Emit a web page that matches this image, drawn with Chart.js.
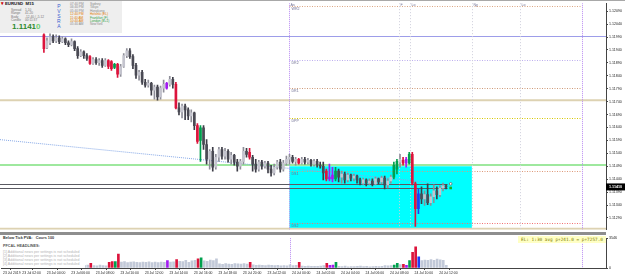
<!DOCTYPE html>
<html>
<head>
<meta charset="utf-8">
<script src="https://cdn.jsdelivr.net/npm/chart.js@4.4.0/dist/chart.umd.min.js"></script>
<style>
  html, body { margin: 0; padding: 0; background: #fff; }
  #wrap { position: relative; width: 625px; height: 277px; overflow: hidden; font-family: "Liberation Sans", Arial, sans-serif; }
  canvas { position: absolute; left: 0; }
  #cMain { top: 0; }
  #cVol { top: 235px; }
  .t { position: absolute; white-space: nowrap; line-height: 1; }
</style>
</head>
<body>
<div id="wrap">
  <canvas id="cMain" width="625" height="233"></canvas>
  <canvas id="cVol" width="625" height="42"></canvas>
  <div style="position:absolute;left:0;top:0;width:625px;height:1px;background:#a8a8a8"></div>
  <div style="position:absolute;left:0;top:232px;width:606px;height:3px;background:#8e8e8e"></div>

  <div style="position:absolute;left:0;top:1px;width:122px;height:32px;background:#eeeeee"></div>
  <div class="t" style="left:1px;top:2px;font-size:4.5px;font-weight:bold;color:#c00">&#9662;</div>
  <div class="t" style="left:5px;top:2px;font-size:4.3px;font-weight:bold;color:#111">EURUSD&nbsp;&nbsp;M15</div>
  <div class="t" style="left:11px;top:8.5px;font-size:3.2px;color:#777;line-height:3.5px">Spread<br>Range<br>Body<br>Candle</div>
  <div class="t" style="left:25px;top:8.5px;font-size:3.2px;color:#777;line-height:3.5px">1.10<br>41.20<br>-12.40 / -5.12<br>00:11:37</div>
  <div class="t" style="left:12px;top:23px;font-size:8px;font-weight:bold;color:#2e8b2e">1.1141<span style="color:#6fcf6f">0</span></div>
  <div class="t" style="left:57px;top:4px;font-size:5px;color:#3b5fd0;line-height:5px;text-align:center">P<br>V<br>S<br>R<br>A</div>
  <div class="t" style="left:70px;top:3px;font-size:3.2px;line-height:3.4px;color:#8a8a8a">07:40 PM<br>06:40 PM<br>05:40 PM<br><span style="color:#e07b00">12:40 PM</span><br><span style="color:#e07b00">11:40 AM</span><br><span style="color:#e07b00">10:40 AM</span><br>05:40 AM</div>
  <div class="t" style="left:90px;top:3px;font-size:3.2px;line-height:3.4px;color:#8a8a8a">Sydney<br>Tokyo<br>Hongkong<br><span style="color:#e07b00">Helsinki (EL)</span><br><span style="color:#2ea043">Frankfurt (F)</span><br><span style="color:#2ea043">London (B+1)</span><br>NewYork</div>

  <div style="position:absolute;left:0;top:236px;width:85px;height:32px;background:#fff"></div>
  <div class="t" style="left:3px;top:237px;font-size:3.8px;font-weight:bold;color:#333">Below Tick PVA:&nbsp;&nbsp;&nbsp;Cours 100</div>
  <div class="t" style="left:3px;top:245px;font-size:3.8px;font-weight:bold;color:#555">PFCAL HEADLINES:</div>
  <div class="t" style="left:3px;top:249.5px;font-size:3.6px;line-height:4.1px;color:#b4b4b4">[1] Additional news per settings is not scheduled<br>[2] Additional news per settings is not scheduled<br>[3] Additional news per settings is not scheduled<br>[4] Additional news per settings is not scheduled</div>

  <div class="t" style="left:518px;top:236px;width:88px;height:7px;background:#ffffc4;font-family:'DejaVu Sans Mono',monospace;font-size:4.4px;line-height:7px;color:#7a7a00;text-align:center">EL: 1:30 avg p+241.0 = p+7257.0</div>
</div>

<script>
// x positions are 15-minute slots counted from 23 Jul 2019 00:00
const firstSlot = 16;

const opens = [
  1.11998, 1.11949, 1.11968, 1.11991, 1.11975, 1.11987, 1.11972, 1.11983, 1.11968, 1.11960,
  1.11972, 1.11945, 1.11918, 1.11933, 1.11918, 1.11914, 1.11888, 1.11903, 1.11891, 1.11899,
  1.11880, 1.11899, 1.11895, 1.11872, 1.11884, 1.11846, 1.11876, 1.11918, 1.11937, 1.11914,
  1.11880, 1.11842, 1.11853, 1.11815, 1.11804, 1.11811, 1.11784, 1.11796, 1.11758, 1.11792,
  1.11792, 1.11807, 1.11826, 1.11807, 1.11716, 1.11700, 1.11723, 1.11708, 1.11685, 1.11697,
  1.11647, 1.11590, 1.11639, 1.11574, 1.11517, 1.11548, 1.11486, 1.11525, 1.11555, 1.11529,
  1.11548, 1.11517, 1.11532, 1.11506, 1.11490, 1.11509, 1.11548, 1.11544, 1.11525, 1.11498,
  1.11479, 1.11506, 1.11490, 1.11502, 1.11479, 1.11464, 1.11486, 1.11506, 1.11479, 1.11502,
  1.11517, 1.11525, 1.11509, 1.11517, 1.11502, 1.11517, 1.11506, 1.11513, 1.11498, 1.11509,
  1.11494, 1.11490, 1.11471, 1.11441, 1.11456, 1.11441, 1.11471, 1.11448, 1.11460, 1.11437,
  1.11456, 1.11444, 1.11452, 1.11437, 1.11425, 1.11437, 1.11425, 1.11433, 1.11422, 1.11441,
  1.11429, 1.11444, 1.11418, 1.11433, 1.11448, 1.11479, 1.11506, 1.11513, 1.11502, 1.11502,
  1.11536, 1.11422, 1.11326, 1.11383, 1.11364, 1.11380, 1.11349, 1.11372, 1.11395, 1.11380,
  1.11406, 1.11414
];
const highs = [
  1.12002, 1.11987, 1.12002, 1.11998, 1.11998, 1.11995, 1.11991, 1.11987, 1.11975, 1.11983,
  1.11975, 1.11953, 1.11941, 1.11937, 1.11926, 1.11918, 1.11910, 1.11910, 1.11907, 1.11907,
  1.11907, 1.11903, 1.11899, 1.11888, 1.11888, 1.11884, 1.11926, 1.11945, 1.11945, 1.11922,
  1.11888, 1.11861, 1.11861, 1.11826, 1.11823, 1.11815, 1.11804, 1.11804, 1.11800, 1.11823,
  1.11815, 1.11838, 1.11834, 1.11815, 1.11735, 1.11731, 1.11731, 1.11716, 1.11708, 1.11700,
  1.11655, 1.11647, 1.11647, 1.11593, 1.11555, 1.11563, 1.11536, 1.11563, 1.11563, 1.11559,
  1.11555, 1.11544, 1.11536, 1.11517, 1.11517, 1.11563, 1.11559, 1.11559, 1.11532, 1.11517,
  1.11513, 1.11513, 1.11509, 1.11509, 1.11494, 1.11498, 1.11513, 1.11517, 1.11513, 1.11529,
  1.11536, 1.11532, 1.11525, 1.11521, 1.11525, 1.11525, 1.11521, 1.11517, 1.11517, 1.11517,
  1.11506, 1.11506, 1.11479, 1.11498, 1.11486, 1.11486, 1.11479, 1.11471, 1.11467, 1.11464,
  1.11460, 1.11460, 1.11456, 1.11444, 1.11444, 1.11441, 1.11441, 1.11441, 1.11448, 1.11444,
  1.11452, 1.11452, 1.11441, 1.11456, 1.11506, 1.11517, 1.11536, 1.11525, 1.11525, 1.11544,
  1.11544, 1.11429, 1.11402, 1.11410, 1.11395, 1.11422, 1.11383, 1.11418, 1.11410, 1.11414,
  1.11425, 1.11418
];
const lows = [
  1.11930, 1.11945, 1.11960, 1.11968, 1.11968, 1.11964, 1.11968, 1.11960, 1.11953, 1.11956,
  1.11937, 1.11907, 1.11914, 1.11907, 1.11899, 1.11884, 1.11884, 1.11884, 1.11880, 1.11872,
  1.11876, 1.11868, 1.11861, 1.11868, 1.11834, 1.11838, 1.11872, 1.11910, 1.11907, 1.11868,
  1.11830, 1.11823, 1.11807, 1.11796, 1.11796, 1.11765, 1.11750, 1.11746, 1.11750, 1.11777,
  1.11788, 1.11800, 1.11792, 1.11712, 1.11689, 1.11677, 1.11670, 1.11670, 1.11662, 1.11632,
  1.11578, 1.11509, 1.11555, 1.11498, 1.11479, 1.11471, 1.11479, 1.11509, 1.11517, 1.11517,
  1.11506, 1.11498, 1.11494, 1.11471, 1.11479, 1.11498, 1.11525, 1.11517, 1.11471, 1.11467,
  1.11471, 1.11479, 1.11483, 1.11464, 1.11452, 1.11456, 1.11479, 1.11467, 1.11471, 1.11494,
  1.11498, 1.11502, 1.11494, 1.11498, 1.11498, 1.11498, 1.11498, 1.11490, 1.11490, 1.11486,
  1.11483, 1.11437, 1.11433, 1.11433, 1.11429, 1.11433, 1.11429, 1.11425, 1.11425, 1.11429,
  1.11433, 1.11433, 1.11425, 1.11418, 1.11418, 1.11414, 1.11418, 1.11414, 1.11418, 1.11422,
  1.11422, 1.11402, 1.11406, 1.11425, 1.11441, 1.11460, 1.11486, 1.11494, 1.11486, 1.11498,
  1.11418, 1.11257, 1.11307, 1.11345, 1.11338, 1.11341, 1.11338, 1.11349, 1.11364, 1.11372,
  1.11395, 1.11402
];
const closes = [
  1.11945, 1.11975, 1.11991, 1.11975, 1.11987, 1.11972, 1.11983, 1.11968, 1.11960, 1.11972,
  1.11945, 1.11918, 1.11933, 1.11918, 1.11907, 1.11888, 1.11903, 1.11891, 1.11899, 1.11880,
  1.11899, 1.11876, 1.11868, 1.11884, 1.11846, 1.11876, 1.11918, 1.11937, 1.11914, 1.11880,
  1.11842, 1.11853, 1.11815, 1.11804, 1.11811, 1.11784, 1.11796, 1.11758, 1.11792, 1.11807,
  1.11811, 1.11826, 1.11807, 1.11716, 1.11700, 1.11723, 1.11708, 1.11685, 1.11697, 1.11647,
  1.11586, 1.11639, 1.11574, 1.11517, 1.11548, 1.11486, 1.11525, 1.11555, 1.11529, 1.11548,
  1.11517, 1.11532, 1.11506, 1.11490, 1.11509, 1.11548, 1.11536, 1.11525, 1.11498, 1.11479,
  1.11506, 1.11490, 1.11502, 1.11479, 1.11464, 1.11486, 1.11506, 1.11479, 1.11502, 1.11517,
  1.11525, 1.11509, 1.11517, 1.11502, 1.11517, 1.11506, 1.11513, 1.11498, 1.11509, 1.11494,
  1.11490, 1.11464, 1.11441, 1.11448, 1.11441, 1.11471, 1.11448, 1.11460, 1.11437, 1.11456,
  1.11444, 1.11452, 1.11437, 1.11425, 1.11437, 1.11425, 1.11433, 1.11422, 1.11441, 1.11429,
  1.11444, 1.11418, 1.11433, 1.11448, 1.11494, 1.11509, 1.11517, 1.11502, 1.11517, 1.11536,
  1.11425, 1.11326, 1.11383, 1.11364, 1.11380, 1.11349, 1.11372, 1.11395, 1.11380, 1.11406,
  1.11414, 1.11410
];
const volumes = [
  400, 300, 250, 250, 200, 250, 200, 250, 300, 250,
  350, 450, 300, 300, 350, 550, 300, 250, 350, 300,
  250, 660, 770, 770, 1650, 700, 760, 650, 700, 720,
  680, 650, 700, 660, 720, 640, 700, 650, 700, 680,
  880, 700, 720, 990, 800, 760, 920, 680, 850, 900,
  1100, 1210, 850, 780, 950, 880, 1100, 500, 450, 520,
  480, 450, 520, 500, 460, 540, 480, 660, 380, 330,
  360, 320, 300, 350, 330, 280, 320, 260, 300, 250,
  380, 300, 320, 660, 220, 200, 230, 190, 210, 200,
  220, 300, 550, 330, 350, 660, 200, 180, 220, 150,
  180, 160, 200, 220, 170, 190, 150, 180, 200, 160,
  190, 280, 260, 300, 350, 550, 400, 440, 330, 880,
  1870, 2530, 1320, 880, 950, 900, 1000, 920, 1050, 980,
  900, 330
];
// PVSRA class per candle: n normal, r red climax, g green climax, v violet, b blue
const pvsra = ('r nnnnnnnnnnnnnn r nnnnn rrgr nnnnnnnnnnnnnnn v nn r nnnnnn rg ' +
  'nnnnnnnnnnnnnnn r nnnnnnnnnnnnnnn r nnnnnnnn rvvg nnnnnnnnnnnnnnnnnn gg n rvgrrb nnnnnnnnn')
  .replace(/ /g, '').split('');

const tickSlots = [0, 8, 16, 24, 32, 40, 48, 56, 64, 72, 80, 88, 96, 104, 112, 120, 128, 136, 144];
const tickLabels = ['23 Jul 2019', '23 Jul 02:00', '23 Jul 04:00', '23 Jul 06:00', '23 Jul 08:00',
  '23 Jul 10:00', '23 Jul 12:00', '23 Jul 14:00', '23 Jul 16:00', '23 Jul 18:00', '23 Jul 20:00',
  '23 Jul 22:00', '24 Jul 00:00', '24 Jul 02:00', '24 Jul 04:00', '24 Jul 06:00', '24 Jul 08:00',
  '24 Jul 10:00', '24 Jul 12:00'];
const priceTicks = [1.12090, 1.12040, 1.11990, 1.11940, 1.11890, 1.11840, 1.11790, 1.11740, 1.11690,
  1.11640, 1.11590, 1.11540, 1.11490, 1.11440, 1.11390, 1.11340, 1.11290];
const volTicks = [0, 3546];

const solidLevels = [1.11995, 1.11745, 1.11495, 1.11248];
const markerLevels = [1.11422, 1.11406];
const currentPrice = 1.11410;
const pivotLevels = [1.12109, 1.11903, 1.11792, 1.11678, 1.11472, 1.11269];
const pivotNames = ['WR2', 'DR2', 'DR1', 'DPP', 'DS1', 'DS2'];
const dayLines = [96, 191.3];
const sessionLines = [131.7, 135.3, 155.4, 171];
const sessionNames = ['F', 'Lo', 'Ny', 'Lo'];
const zoneSlots = [96, 155.4];
const zonePrices = [1.11490, 1.11250];
const trendSlots = [1.7, 144];
const trendPrices = [1.11593, 1.11425];
const markerSlot = 148.5;

const xMin = 1.7, xMax = 199.1;
const yMin = 1.11244, yMax = 1.12121;

const classColors = { r: '#dc143c', g: '#00a04e', v: '#a21cf0', b: '#1f3cf5' };
const slots = opens.map((_, i) => firstSlot + i);
const isUp = i => closes[i] >= opens[i];
function bodyColor(i) {
  const c = pvsra[i];
  if (c !== 'n') return classColors[c];
  return isUp(i) ? '#c4c4ce' : '#4a4a54';
}
function wickColor(i) {
  const c = pvsra[i];
  if (c !== 'n') return classColors[c];
  return isUp(i) ? '#8e8e98' : '#3c3c46';
}
function volColor(i) {
  const c = pvsra[i];
  return c !== 'n' ? classColors[c] : '#c2c9d8';
}

function stroke(ctx, x0, y0, x1, y1, color, w, dash) {
  ctx.strokeStyle = color;
  ctx.lineWidth = w;
  ctx.setLineDash(dash);
  ctx.beginPath();
  ctx.moveTo(x0, y0);
  ctx.lineTo(x1, y1);
  ctx.stroke();
}
const crisp = v => Math.round(v) + 0.5;

const mainOverlay = {
  id: 'mainOverlay',
  beforeDatasetsDraw(chart) {
    const { ctx, chartArea: a, scales: { x, y } } = chart;
    ctx.save();
    ctx.beginPath();
    ctx.rect(a.left, a.top, a.right - a.left, a.bottom - a.top);
    ctx.clip();

    const zx0 = x.getPixelForValue(zoneSlots[0]), zx1 = x.getPixelForValue(zoneSlots[1]);
    const zy0 = y.getPixelForValue(zonePrices[0]), zy1 = y.getPixelForValue(zonePrices[1]);
    ctx.fillStyle = '#00ffff';
    ctx.fillRect(zx0, zy0, zx1 - zx0, zy1 - zy0);

    const solidColors = ['#9d9de9', '#ddd2b2', '#9ee89e', '#ddd2b2'];
    const solidWidths = [1, 2, 2, 2];
    solidLevels.forEach((v, i) => {
      const py = solidWidths[i] === 1 ? crisp(y.getPixelForValue(v)) : y.getPixelForValue(v);
      stroke(ctx, a.left, py, a.right, py, solidColors[i], solidWidths[i], []);
    });

    const mEnd = x.getPixelForValue(markerSlot - 1);
    markerLevels.forEach(v => {
      const py = crisp(y.getPixelForValue(v));
      stroke(ctx, a.left, py, mEnd, py, '#5a5a62', 1, []);
    });

    const pivotColors = ['#dba582', '#bcaeee', '#cf9a78', '#d8c800', '#dd9878', '#f27070'];
    const px0 = x.getPixelForValue(dayLines[0]), px1 = x.getPixelForValue(dayLines[1]);
    ctx.font = '3.6px "Liberation Sans", Arial';
    ctx.textBaseline = 'top';
    pivotLevels.forEach((v, i) => {
      const py = crisp(y.getPixelForValue(v));
      stroke(ctx, px0, py, px1, py, pivotColors[i], 1, [1, 1.5]);
      ctx.fillStyle = '#6c6c90';
      ctx.fillText(pivotNames[i], px0 + 2, py + 1);
    });

    sessionLines.forEach((s, i) => {
      const px = crisp(x.getPixelForValue(s));
      stroke(ctx, px, a.top, px, a.bottom, '#cfcfdc', 1, [1, 2]);
      ctx.fillStyle = '#6c6c90';
      ctx.fillText(sessionNames[i], px + 1, a.top);
    });
    ctx.fillText('As', px0 + 1, a.top);

    stroke(ctx, x.getPixelForValue(trendSlots[0]), y.getPixelForValue(trendPrices[0]),
      x.getPixelForValue(trendSlots[1]), y.getPixelForValue(trendPrices[1]), '#86a8e6', 1, [1, 1]);

    dayLines.forEach(s => {
      const px = crisp(x.getPixelForValue(s));
      stroke(ctx, px, a.top, px, a.bottom, '#b98cf2', 1, [1, 1]);
    });
    ctx.restore();
  },
  afterDatasetsDraw(chart) {
    const { ctx, scales: { x, y } } = chart;
    ctx.save();
    const mx = x.getPixelForValue(markerSlot);
    ctx.fillStyle = '#fff';
    ctx.strokeStyle = '#666';
    ctx.lineWidth = 0.8;
    ctx.beginPath();
    ctx.arc(mx, y.getPixelForValue(markerLevels[0]), 1.3, 0, Math.PI * 2);
    ctx.fill();
    ctx.stroke();
    ctx.fillStyle = '#19b219';
    ctx.fillRect(mx - 1.3, y.getPixelForValue(markerLevels[1]) - 1.3, 2.6, 2.6);
    ctx.restore();
  },
  afterDraw(chart) {
    const { ctx, chartArea: a, scales: { y } } = chart;
    const py = y.getPixelForValue(currentPrice);
    ctx.save();
    ctx.fillStyle = '#000';
    ctx.fillRect(a.right, py - 3.5, 19, 7);
    ctx.fillStyle = '#fff';
    ctx.font = 'bold 3.7px "Liberation Sans", Arial';
    ctx.textBaseline = 'middle';
    ctx.fillText(currentPrice.toFixed(5), a.right + 3, py);
    ctx.restore();
  }
};

const volOverlay = {
  id: 'volOverlay',
  beforeDatasetsDraw(chart) {
    const { ctx, chartArea: a, scales: { x } } = chart;
    ctx.save();
    dayLines.forEach(s => {
      const px = crisp(x.getPixelForValue(s));
      stroke(ctx, px, a.top, px, a.bottom, '#b98cf2', 1, [1, 1]);
    });
    ctx.restore();
  }
};

const yFont = { family: '"Liberation Sans", Arial', size: 3.6 };
const xFont = { family: '"Liberation Sans", Arial', size: 3.4 };
const axisGrid = { drawOnChartArea: false, tickLength: 2, color: '#444', lineWidth: 1 };

new Chart(document.getElementById('cMain'), {
  type: 'bar',
  data: {
    datasets: [
      {
        data: opens.map((o, i) => ({ x: slots[i], y: [o, closes[i]] })),
        backgroundColor: c => bodyColor(c.dataIndex),
        barThickness: 2, minBarLength: 1, grouped: false, order: 1
      },
      {
        data: lows.map((l, i) => ({ x: slots[i], y: [l, highs[i]] })),
        backgroundColor: c => wickColor(c.dataIndex),
        barThickness: 1, grouped: false, order: 2
      }
    ]
  },
  options: {
    responsive: false, animation: false, events: [],
    layout: { padding: { top: 2, bottom: 2, left: 0, right: 0 } },
    plugins: { legend: { display: false }, tooltip: { enabled: false } },
    scales: {
      x: { type: 'linear', min: xMin, max: xMax, offset: false, display: false },
      y: {
        position: 'right', min: yMin, max: yMax,
        afterFit: s => { s.width = 19; },
        afterBuildTicks: s => { s.ticks = priceTicks.map(v => ({ value: v })); },
        ticks: { font: yFont, color: '#222', padding: 1, callback: v => v.toFixed(5) },
        grid: axisGrid,
        border: { color: '#444' }
      }
    }
  },
  plugins: [mainOverlay]
});

new Chart(document.getElementById('cVol'), {
  type: 'bar',
  data: {
    datasets: [{
      data: volumes.map((v, i) => ({ x: slots[i], y: v })),
      backgroundColor: c => volColor(c.dataIndex),
      barThickness: 2, grouped: false
    }]
  },
  options: {
    responsive: false, animation: false, events: [],
    layout: { padding: { top: 2, bottom: 0, left: 0, right: 0 } },
    plugins: { legend: { display: false }, tooltip: { enabled: false } },
    scales: {
      x: {
        type: 'linear', min: xMin, max: xMax, offset: false,
        afterFit: s => { s.height = 9; },
        afterBuildTicks: s => { s.ticks = tickSlots.map(v => ({ value: Math.max(v, s.min) })); },
        ticks: {
          autoSkip: false, maxRotation: 0, minRotation: 0, align: 'start', labelOffset: 2, padding: 1,
          font: xFont, color: '#222', callback: (v, i) => tickLabels[i]
        },
        grid: axisGrid,
        border: { color: '#444' }
      },
      y: {
        position: 'right', min: volTicks[0], max: volTicks[1],
        afterFit: s => { s.width = 19; },
        afterBuildTicks: s => { s.ticks = volTicks.map(v => ({ value: v })); },
        ticks: { font: yFont, color: '#222', padding: 1, callback: v => String(v) },
        grid: axisGrid,
        border: { color: '#444' }
      }
    }
  },
  plugins: [volOverlay]
});
</script>
</body>
</html>
